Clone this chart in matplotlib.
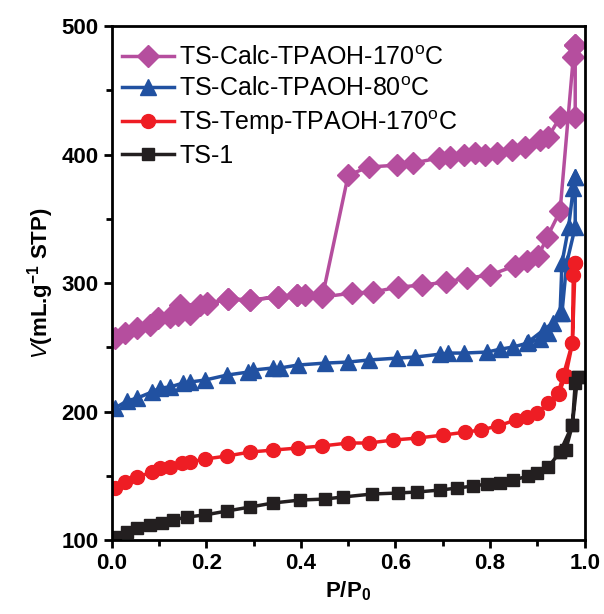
import matplotlib
matplotlib.use("Agg")
import matplotlib.pyplot as plt
from matplotlib.ticker import MultipleLocator

plt.rcParams['font.family'] = ['Liberation Sans', 'DejaVu Sans']
plt.rcParams['mathtext.fontset'] = 'custom'
plt.rcParams['mathtext.rm'] = 'Liberation Sans'
plt.rcParams['mathtext.it'] = 'Liberation Sans:italic'
plt.rcParams['mathtext.bf'] = 'Liberation Sans:bold'

# TS-Calc-TPAOH-170 (adsorption then desorption)
calc170_ads_x = [0.007, 0.028, 0.054, 0.081, 0.098, 0.123, 0.140, 0.166, 0.202, 0.246, 0.293, 0.352,
                 0.392, 0.409, 0.445, 0.508, 0.553, 0.606, 0.657, 0.706, 0.752, 0.800, 0.853, 0.879,
                 0.902, 0.921, 0.948, 0.976, 0.980]
calc170_ads_y = [257.2, 261.1, 265.0, 267.3, 272.8, 273.5, 275.1, 276.0, 283.5, 287.5, 286.8, 289.1,
                 290.7, 290.7, 289.1, 292.2, 293.0, 296.9, 298.4, 300.8, 303.9, 306.2, 313.5, 317.0,
                 321.0, 336.0, 356.0, 476.0, 485.2]
calc170_des_x = [0.980, 0.980, 0.948, 0.923, 0.906, 0.874, 0.847, 0.815, 0.790, 0.769, 0.744, 0.716,
                 0.691, 0.638, 0.604, 0.543, 0.500, 0.447, 0.392, 0.352, 0.293, 0.246, 0.202, 0.187,
                 0.145]
calc170_des_y = [485.2, 429.2, 429.2, 413.6, 411.3, 405.8, 403.5, 401.2, 399.6, 401.2, 399.6, 398.1,
                 397.3, 393.4, 391.8, 390.3, 384.0, 292.2, 290.7, 289.1, 287.0, 287.5, 284.4, 282.9,
                 282.9]

# TS-Calc-TPAOH-80
calc80_ads_x = [0.007, 0.032, 0.054, 0.085, 0.102, 0.123, 0.151, 0.166, 0.197, 0.244, 0.288, 0.299,
                0.341, 0.356, 0.394, 0.451, 0.500, 0.543, 0.604, 0.642, 0.695, 0.712, 0.744, 0.794,
                0.822, 0.849, 0.879, 0.906, 0.923, 0.948, 0.952, 0.966, 0.976, 0.980]
calc80_ads_y = [202.7, 208.2, 210.5, 215.2, 218.3, 219.1, 222.2, 223.0, 224.5, 228.4, 230.7, 232.3,
                233.9, 233.9, 236.2, 237.7, 238.5, 240.1, 241.6, 242.4, 244.7, 245.5, 245.5, 246.3,
                248.6, 250.2, 253.3, 256.4, 261.1, 276.7, 315.6, 343.6, 373.9, 382.5]
calc80_des_x = [0.980, 0.980, 0.962, 0.952, 0.932, 0.913, 0.880]
calc80_des_y = [382.5, 343.6, 315.6, 276.7, 268.9, 263.4, 254.0]

# TS-Temp-TPAOH-170
temp170_ads_x = [0.007, 0.028, 0.054, 0.085, 0.102, 0.123, 0.149, 0.166, 0.197, 0.244, 0.293, 0.341,
                 0.394, 0.445, 0.500, 0.543, 0.595, 0.648, 0.701, 0.748, 0.780, 0.816, 0.854, 0.879,
                 0.900, 0.923, 0.944, 0.955, 0.974, 0.976, 0.980]
temp170_ads_y = [140.5, 145.1, 149.0, 152.9, 156.0, 156.8, 159.9, 160.7, 163.0, 165.4, 168.5, 170.0,
                 171.6, 173.2, 175.5, 175.5, 177.8, 179.4, 181.7, 184.0, 185.6, 188.7, 193.4, 195.7,
                 198.8, 206.6, 214.4, 228.4, 253.3, 306.2, 315.6]
temp170_des_x = [0.980, 0.974, 0.960, 0.945]
temp170_des_y = [315.6, 253.0, 228.0, 214.0]

# TS-1
ts1_ads_x = [0.002, 0.007, 0.032, 0.054, 0.081, 0.106, 0.130, 0.159, 0.197, 0.244, 0.293, 0.341,
             0.398, 0.451, 0.489, 0.551, 0.606, 0.646, 0.695, 0.731, 0.764, 0.794, 0.822, 0.849,
             0.881, 0.900, 0.923, 0.948, 0.974, 0.980, 0.985]
ts1_ads_y = [100.5, 102.3, 106.2, 109.3, 111.7, 113.2, 115.6, 117.9, 119.5, 122.6, 125.7, 128.8,
             131.1, 131.9, 133.5, 135.8, 136.6, 137.4, 138.9, 140.5, 142.0, 143.6, 144.4, 146.7,
             149.8, 152.1, 156.8, 168.5, 189.5, 222.2, 226.8]
ts1_des_x = [0.985, 0.974, 0.960, 0.948]
ts1_des_y = [226.8, 189.5, 170.0, 168.5]

series = [
    ("TS-Calc-TPAOH-170$^{\\mathrm{o}}$C", calc170_ads_x + calc170_des_x, calc170_ads_y + calc170_des_y, "#B54E9E", "D", 11),
    ("TS-Calc-TPAOH-80$^{\\mathrm{o}}$C", calc80_ads_x + calc80_des_x, calc80_ads_y + calc80_des_y, "#2151A1", "^", 11),
    ("TS-Temp-TPAOH-170$^{\\mathrm{o}}$C", temp170_ads_x + temp170_des_x, temp170_ads_y + temp170_des_y, "#EE1D24", "o", 10),
    ("TS-1", ts1_ads_x + ts1_des_x, ts1_ads_y + ts1_des_y, "#231F20", "s", 9),
]

fig = plt.figure(figsize=(6.04, 6.14), dpi=100)
ax = fig.add_axes([0.185, 0.1205, 0.783, 0.837])

for label, x, y, c, m, ms in series:
    ax.plot(x, y, '-', color=c, lw=2.5, marker=m, ms=ms, mfc=c, mec=c, label=label)

ax.set_xlim(0, 1.0)
ax.set_ylim(100, 500)
ax.xaxis.set_major_locator(MultipleLocator(0.2))
ax.xaxis.set_minor_locator(MultipleLocator(0.1))
ax.yaxis.set_major_locator(MultipleLocator(100))
ax.yaxis.set_minor_locator(MultipleLocator(50))
ax.tick_params(which='both', direction='out', width=2, top=False, right=False)
ax.tick_params(which='major', length=6, labelsize=16)
ax.tick_params(which='minor', length=4)
for lab in ax.get_xticklabels() + ax.get_yticklabels():
    lab.set_fontweight('bold')
for s in ax.spines.values():
    s.set_linewidth(2)

ax.set_xlabel("P/P$_{\\mathbf{0}}$", fontsize=16, fontweight='bold', labelpad=4)
ax.set_ylabel("$\\mathit{V}$(mL.g$^{\\mathbf{-1}}$ STP)", fontsize=16, fontweight='bold', labelpad=4)

ax.legend(loc='upper left', bbox_to_anchor=(-0.021, 1.0), frameon=False, fontsize=18,
          handlelength=2.1, handletextpad=0.2, labelspacing=0.28, borderaxespad=0.5, borderpad=0.3)

fig.savefig("out.png", dpi=100)
